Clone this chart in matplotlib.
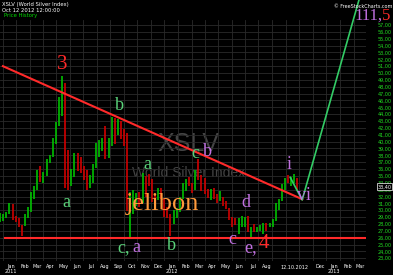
import pandas as pd
import matplotlib
matplotlib.use('Agg')
from matplotlib import pyplot as plt
from matplotlib import transforms

# weekly bars of the World Silver Index (week ending friday)
week_end = pd.date_range('2010-12-10', periods=97, freq='W-FRI')
lows = [28.3, 28.5, 28.9, 29.5, 28.6, 28.3, 27.5, 26.3, 27.7, 28.9,
        29.8, 31.6, 32.9, 34.1, 33.9, 35.0, 36.9, 37.7, 39.6, 42.3,
        43.8, 33.2, 32.9, 33.6, 34.9, 35.7, 35.5, 34.4, 33.0, 33.3,
        33.9, 36.1, 37.8, 38.6, 37.4, 37.6, 39.3, 39.7, 40.9, 40.4,
        39.3, 29.9, 26.1, 29.5, 30.6, 30.5, 31.0, 32.0, 33.5, 31.2,
        30.1, 31.5, 31.7, 29.0, 28.9, 26.3, 28.0, 28.8, 29.7, 31.7,
        32.8, 33.5, 32.5, 33.0, 34.4, 32.8, 32.3, 31.8, 31.5, 31.7,
        31.0, 31.4, 30.6, 30.2, 28.6, 27.6, 27.8, 26.6, 27.5, 27.6,
        26.9, 26.1, 26.9, 26.9, 27.0, 26.6, 27.0, 27.6, 27.5, 28.5,
        30.1, 31.3, 32.9, 33.9, 33.6, 34.0, 32.9]
highs = [29.6, 29.4, 29.8, 31.0, 30.9, 29.2, 28.9, 27.9, 29.4, 30.5,
         32.6, 33.6, 35.8, 36.5, 35.6, 37.4, 38.1, 40.6, 42.8, 46.5,
         49.5, 48.5, 38.8, 36.0, 38.4, 38.4, 37.7, 36.4, 35.9, 35.1,
         36.8, 39.8, 40.2, 40.6, 42.3, 40.5, 43.6, 43.4, 43.3, 43.0,
         41.8, 41.3, 32.6, 32.9, 32.5, 32.6, 35.4, 35.0, 35.3, 34.6,
         32.3, 33.2, 33.3, 31.6, 30.4, 29.4, 30.0, 30.3, 32.0, 33.9,
         34.6, 34.8, 34.0, 35.8, 37.5, 35.2, 34.7, 33.1, 33.1, 33.3,
         32.3, 32.8, 31.9, 31.4, 30.3, 29.0, 28.9, 28.8, 29.2, 29.0,
         29.2, 27.6, 28.0, 27.6, 27.8, 28.1, 28.1, 28.2, 28.7, 31.1,
         31.7, 33.8, 34.7, 35.1, 34.8, 35.3, 34.7]
closes = [28.7, 29.0, 29.6, 30.6, 28.7, 28.6, 27.7, 27.6, 29.1, 30.0,
          32.4, 33.0, 35.6, 35.3, 35.3, 37.3, 37.9, 40.5, 42.7, 46.1,
          48.3, 35.3, 35.1, 35.2, 38.0, 36.5, 35.8, 35.4, 34.0, 34.5,
          36.6, 39.3, 40.1, 40.1, 38.3, 39.5, 43.0, 41.3, 42.9, 41.5,
          40.0, 30.4, 30.4, 31.6, 31.9, 31.3, 35.0, 34.3, 34.2, 31.8,
          31.4, 32.7, 31.9, 29.6, 29.2, 28.0, 29.6, 29.9, 31.6, 33.3,
          34.1, 33.7, 33.2, 35.5, 34.8, 34.1, 32.6, 32.3, 32.6, 31.9,
          31.6, 31.7, 31.3, 30.4, 28.8, 28.6, 28.4, 28.6, 28.6, 28.8,
          27.2, 27.5, 27.2, 27.3, 27.4, 27.9, 27.6, 27.8, 28.5, 30.6,
          31.5, 33.6, 34.5, 34.4, 34.6, 34.6, 33.4]

# hand drawn lines (x in months since Jan 2011)
trend_x = [-0.58, 21.65]
trend_y = [51.0, 31.6]
support_x = [-0.45, 26.3]
support_y = [26.0, 26.0]
proj_x = [20.75, 21.64, 25.85]
proj_y = [34.8, 31.5, 60.6]

base = pd.Timestamp('2011-01-01')
def to_x(dates):
    return (pd.DatetimeIndex(dates) - base).days / 30.44

GREEN_LBL = '#5ad27a'
PURPLE = '#c070e0'
RED = '#ff2a2a'

fig = plt.figure(figsize=(3.93, 2.75), dpi=100, facecolor='black')
ax = fig.add_axes([0, 14/275, 366/393, 241/275], facecolor='black')
ax.set_xlim(-0.797, 26.21)
ax.set_ylim(22.6, 57.73)
for s in ax.spines.values():
    s.set_visible(False)

# grid + ticks
ax.yaxis.tick_right()
yt = list(range(23, 58))
ax.set_yticks(yt)
ax.set_yticklabels([f'{v},00' for v in yt])
ax.tick_params(axis='y', length=0, pad=8.5, labelsize=3.5, labelcolor='#22dd22')
ax.grid(axis='y', color='#2a2a2a', lw=0.6)

months = pd.date_range('2011-01-01', '2013-03-01', freq='MS')
months = [m for m in months if not (m.year == 2012 and m.month in (9, 10, 11))]
labels = [m.strftime('%b') + ('\n' + str(m.year) if m.month == 1 else '') for m in months]
ax.set_xticks(to_x(months))
ax.set_xticklabels(labels, linespacing=0.9)
mid = pd.date_range('2010-12-01', '2013-03-01', freq='MS') + pd.Timedelta(days=13)
ax.set_xticks(to_x(mid), minor=True)
ax.tick_params(axis='x', which='both', length=0, pad=2.5, labelsize=3.5, labelcolor='white')
ax.grid(axis='x', which='minor', color='#2a2a2a', lw=0.6)
ax.set_axisbelow(True)

# watermark
ax.text(13.22, 39.7, 'XSLV', color='#444444', fontsize=18, family='Liberation Sans',
        ha='center', va='center', zorder=0.5)
ax.text(13.22, 35.5, 'World Silver Index', color='#444444', fontsize=10,
        family='Liberation Sans', ha='center', va='center', zorder=0.5)

# price bars
bx = to_x(week_end - pd.Timedelta(days=2))
cols = ['#00c000' if i == 0 or closes[i] >= closes[i - 1] else '#d00000'
        for i in range(len(closes))]
ax.vlines(bx, lows, highs, colors=cols, lw=1.2, zorder=2)

# drawn lines
ax.plot(trend_x, trend_y, color=RED, lw=1.5, zorder=3)
ax.plot(support_x, support_y, color=RED, lw=1.5, zorder=3)
ax.plot(proj_x, proj_y, color='#33cc66', lw=1.2, zorder=3, clip_on=False)

# wave labels
def lbl(x, y, s, c, size=13):
    ax.text(x, y, s, color=c, fontsize=size, family='Liberation Serif',
            ha='center', va='center', zorder=4)

lbl(3.85, 51.2, '3', RED, 15)
lbl(8.06, 45.3, 'b', GREEN_LBL)
lbl(4.15, 31.2, 'a', GREEN_LBL)
lbl(8.35, 24.5, 'c,', GREEN_LBL)
lbl(9.35, 24.6, 'a', PURPLE)
lbl(10.13, 36.6, 'a', GREEN_LBL)
lbl(11.23, 30.9, 'jelibon', '#ff9a3c', 19)
lbl(11.9, 24.8, 'b', GREEN_LBL)
lbl(13.7, 38.3, 'c', GREEN_LBL)
lbl(14.6, 38.6, 'b', PURPLE)
lbl(17.43, 31.2, 'd', PURPLE)
lbl(16.47, 25.8, 'c', PURPLE)
lbl(17.8, 24.5, 'e,', PURPLE)
lbl(18.83, 25.1, '4', RED, 15)
lbl(20.68, 36.6, 'i', PURPLE)
lbl(21.8, 32.1, 'vi', PURPLE)

# last price box and date
tr = transforms.blended_transform_factory(ax.transAxes, ax.transData)
ax.text(384.5 / 366, closes[-1], f'{closes[-1]:.2f}'.replace('.', ','), transform=tr,
        ha='center', va='center', fontsize=3.5, color='white', zorder=5, clip_on=False,
        bbox=dict(boxstyle='square,pad=0.2', fc='black', ec='white', lw=0.5))
tr2 = transforms.blended_transform_factory(ax.transData, ax.transAxes)
ax.text(bx[-1] - 0.2, -0.018, '12.10.2012', transform=tr2, ha='center', va='top',
        fontsize=3.5, color='white')

# header texts
def ftxt(px, py, s, c='white', size=3.8, ha='left', **kw):
    fig.text(px / 393, 1 - py / 275, s, color=c, fontsize=size, ha=ha, va='center', **kw)

ftxt(2, 4.5, 'XSLV (World Silver Index)')
ftxt(2, 10, 'Oct 12 2012 12:00:00')
ftxt(4, 16, 'Price History', c='#00dd00')
ftxt(392, 6, '\u00a9 FreeStockCharts.com', size=3.5, ha='right')
ftxt(382, 16, '111,', c=PURPLE, size=12, ha='right', family='Liberation Serif')
ftxt(382, 16, '5', c=RED, size=12, family='Liberation Serif')

fig.savefig('out.png', dpi=100, facecolor='black')
